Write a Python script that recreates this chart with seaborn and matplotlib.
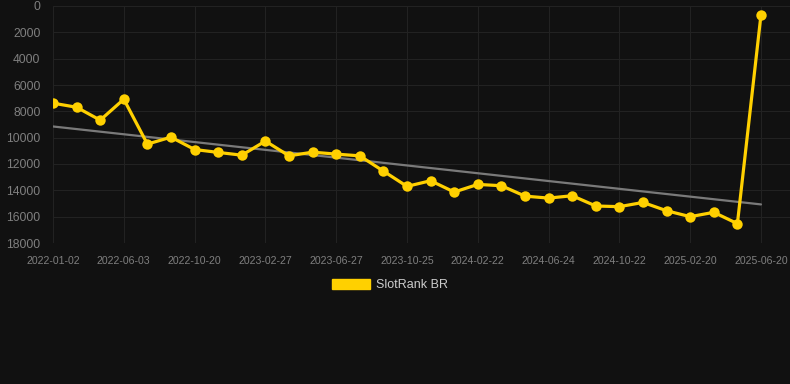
import numpy as np
import pandas as pd
import matplotlib
matplotlib.use("Agg")
import matplotlib.pyplot as plt
import seaborn as sns

# ============================================================
# DATA
# ============================================================
rank_values = [
    7380, 7690, 8670, 7080, 10490, 9960, 10900, 11120, 11330, 10260,
    11380, 11100, 11250, 11380, 12540, 13700, 13270, 14130, 13550, 13650,
    14440, 14590, 14410, 15190, 15240, 14920, 15550, 16000, 15670, 16530,
    660,
]
tick_labels = [
    "2022-01-02", "2022-06-03", "2022-10-20", "2023-02-27", "2023-06-27",
    "2023-10-25", "2024-02-22", "2024-06-24", "2024-10-22", "2025-02-20",
    "2025-06-20",
]
y_ticks = [0, 2000, 4000, 6000, 8000, 10000, 12000, 14000, 16000, 18000]
trend_start, trend_end = 9150, 15070
series_name = "SlotRank BR"

# ============================================================
# STYLE
# ============================================================
BG = "#111111"
GRID = "#222222"
TEXT = "#7f7f7f"
YELLOW = "#FFD000"
TREND = "#7a7a7a"

sns.set_style("dark", {"axes.facecolor": BG, "figure.facecolor": BG})
plt.rcParams["font.family"] = ["Liberation Sans", "DejaVu Sans"]

df = pd.DataFrame({"idx": np.arange(len(rank_values)), "rank": rank_values})
n = len(rank_values)

fig = plt.figure(figsize=(7.9, 3.84), dpi=100)
ax = fig.add_axes([53 / 790, 1 - 243 / 384, 1 - 53 / 790, 237 / 384])
ax.set_facecolor(BG)

# trend line
ax.plot([0, n - 1], [trend_start, trend_end], color=TREND, lw=1.6, zorder=2)

sns.lineplot(data=df, x="idx", y="rank", ax=ax, color=YELLOW, lw=2.3,
             marker="o", markersize=7.5, markeredgewidth=0, zorder=3,
             legend=False)

ax.set_xlim(0, (n - 1) * 737 / 708)
ax.set_ylim(18000, 0)
ax.set_yticks(y_ticks)
ax.set_yticklabels([str(v) for v in y_ticks])
ax.set_xticks(np.arange(0, n, 3))
ax.set_xticklabels(tick_labels)
ax.set_xlabel("")
ax.set_ylabel("")

ax.grid(True, color=GRID, lw=0.8)
ax.tick_params(axis="both", colors=GRID, labelcolor=TEXT, length=6, width=0.8)
ax.tick_params(axis="y", labelsize=8.7, pad=3)
ax.tick_params(axis="x", labelsize=7.6, pad=3)
for s in ax.spines.values():
    s.set_visible(False)

# legend
handle = plt.Rectangle((0, 0), 1, 1, color=YELLOW)
fig.legend([handle], [series_name], loc="center", bbox_to_anchor=(390 / 790, 1 - 285 / 384),
           frameon=False, handlelength=3.0, handleheight=0.9, handletextpad=0.5,
           fontsize=9, labelcolor="#cccccc")

fig.savefig("out.png", dpi=100, facecolor=BG)
